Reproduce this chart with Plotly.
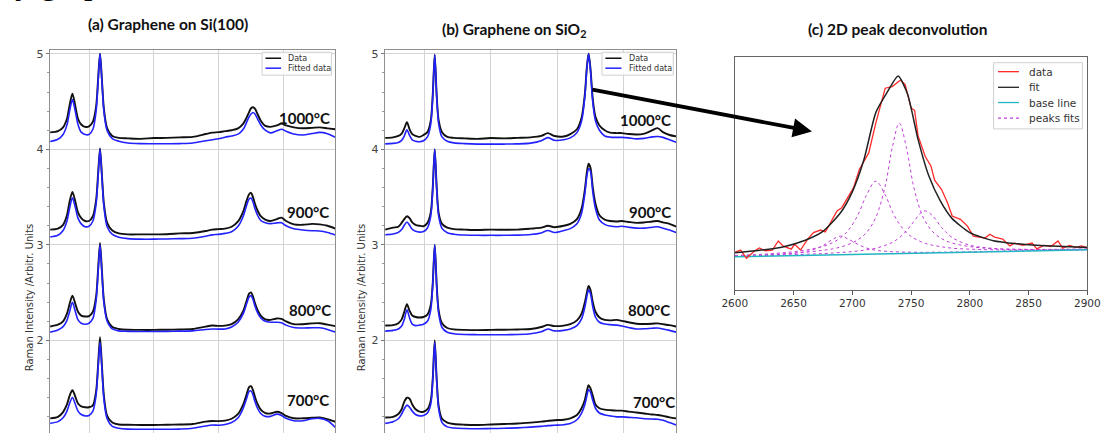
import plotly.graph_objects as go

W, H = 1115, 433

# ---------------- data: panels (a) and (b) ----------------
TEMPS = ["1000°C", "900°C", "800°C", "700°C"]

XA = [1200, 1260, 1300, 1330, 1350, 1372, 1395, 1415, 1440, 1470, 1500, 1530, 1555, 1570, 1585,
      1600, 1615, 1640, 1680, 1730, 1800, 1900, 2000, 2100, 2200, 2300, 2400, 2450, 2500, 2550,
      2600, 2650, 2690, 2715, 2735, 2750, 2765, 2780, 2800, 2825, 2860, 2900, 2950, 2985, 3020,
      3080, 3150, 3220, 3280, 3340, 3400]

A1000_FIT = [4.082, 4.106, 4.156, 4.256, 4.397, 4.52, 4.392, 4.261, 4.18, 4.155,
             4.155, 4.21, 4.403, 4.706, 5.0, 4.703, 4.395, 4.196, 4.113, 4.085,
             4.067, 4.06, 4.058, 4.058, 4.06, 4.066, 4.09, 4.1, 4.11, 4.127,
             4.14, 4.159, 4.21, 4.28, 4.34, 4.37, 4.385, 4.37, 4.32, 4.255,
             4.2, 4.172, 4.195, 4.21, 4.19, 4.16, 4.15, 4.165, 4.177, 4.163, 4.125]
A1000_DATA = [4.177, 4.19, 4.23, 4.32, 4.46, 4.583, 4.45, 4.32, 4.26, 4.235,
              4.24, 4.29, 4.45, 4.73, 5.0, 4.72, 4.42, 4.22, 4.14, 4.12,
              4.115, 4.11, 4.118, 4.12, 4.125, 4.13, 4.16, 4.175, 4.18, 4.19,
              4.2, 4.22, 4.27, 4.33, 4.39, 4.43, 4.44, 4.425, 4.37, 4.3,
              4.245, 4.235, 4.25, 4.27, 4.25, 4.23, 4.22, 4.225, 4.23, 4.22, 4.21]
A900_FIT = [3.083, 3.10, 3.15, 3.25, 3.38, 3.493, 3.39, 3.28, 3.22, 3.19,
            3.195, 3.25, 3.43, 3.71, 4.0, 3.70, 3.40, 3.19, 3.11, 3.08,
            3.065, 3.06, 3.06, 3.062, 3.065, 3.07, 3.09, 3.105, 3.11, 3.12,
            3.137, 3.194, 3.30, 3.41, 3.48, 3.49, 3.45, 3.38, 3.31, 3.255,
            3.232, 3.222, 3.23, 3.232, 3.2, 3.168, 3.155, 3.148, 3.146, 3.13, 3.104]
A900_DATA = [3.16, 3.17, 3.21, 3.31, 3.45, 3.555, 3.45, 3.34, 3.28, 3.25,
             3.25, 3.30, 3.47, 3.74, 4.01, 3.72, 3.43, 3.23, 3.15, 3.12,
             3.11, 3.11, 3.11, 3.112, 3.12, 3.125, 3.145, 3.16, 3.165, 3.17,
             3.19, 3.245, 3.35, 3.46, 3.53, 3.545, 3.5, 3.43, 3.36, 3.3,
             3.265, 3.25, 3.27, 3.285, 3.25, 3.215, 3.21, 3.22, 3.215, 3.2, 3.17]
A800_FIT = [2.087, 2.11, 2.145, 2.21, 2.30, 2.399, 2.3, 2.215, 2.18, 2.17,
            2.18, 2.23, 2.42, 2.71, 3.0, 2.69, 2.39, 2.2, 2.12, 2.1,
            2.095, 2.093, 2.093, 2.095, 2.097, 2.1, 2.115, 2.12, 2.118, 2.12,
            2.14, 2.19, 2.28, 2.38, 2.455, 2.469, 2.43, 2.36, 2.29, 2.235,
            2.2, 2.19, 2.19, 2.185, 2.16, 2.135, 2.13, 2.132, 2.132, 2.115, 2.087]
A800_DATA = [2.146, 2.165, 2.2, 2.28, 2.38, 2.469, 2.38, 2.3, 2.26, 2.25,
             2.255, 2.3, 2.46, 2.74, 3.02, 2.72, 2.42, 2.22, 2.14, 2.12,
             2.112, 2.11, 2.11, 2.112, 2.115, 2.12, 2.145, 2.156, 2.152, 2.155,
             2.17, 2.22, 2.31, 2.41, 2.49, 2.503, 2.46, 2.39, 2.32, 2.26,
             2.22, 2.215, 2.23, 2.225, 2.2, 2.17, 2.17, 2.178, 2.18, 2.165, 2.149]
A700_FIT = [1.132, 1.15, 1.19, 1.26, 1.34, 1.403, 1.33, 1.26, 1.225, 1.21,
            1.215, 1.26, 1.43, 1.71, 1.98, 1.69, 1.38, 1.18, 1.1, 1.08,
            1.072, 1.07, 1.07, 1.07, 1.072, 1.08, 1.105, 1.115, 1.112, 1.12,
            1.14, 1.19, 1.29, 1.39, 1.465, 1.472, 1.43, 1.36, 1.29, 1.235,
            1.205, 1.205, 1.229, 1.215, 1.185, 1.16, 1.16, 1.18, 1.184, 1.16, 1.09]
A700_DATA = [1.184, 1.2, 1.25, 1.33, 1.42, 1.479, 1.41, 1.34, 1.31, 1.30,
             1.3, 1.32, 1.47, 1.74, 2.035, 1.73, 1.42, 1.21, 1.14, 1.12,
             1.117, 1.115, 1.115, 1.117, 1.12, 1.125, 1.15, 1.156, 1.155, 1.16,
             1.18, 1.23, 1.33, 1.43, 1.51, 1.521, 1.48, 1.41, 1.335, 1.275,
             1.24, 1.235, 1.253, 1.24, 1.21, 1.185, 1.185, 1.19, 1.194, 1.175, 1.149]

XB = [1200, 1260, 1300, 1325, 1345, 1365, 1385, 1405, 1430, 1460, 1490, 1520, 1545, 1560, 1575,
      1590, 1605, 1630, 1670, 1720, 1800, 1900, 2000, 2100, 2200, 2300, 2380, 2430, 2480, 2550,
      2600, 2650, 2685, 2710, 2725, 2738, 2752, 2770, 2790, 2820, 2860, 2900, 2950, 2990, 3040,
      3100, 3160, 3220, 3260, 3300, 3350, 3400]

B1000_FIT = [4.057, 4.062, 4.072, 4.094, 4.14, 4.205, 4.145, 4.1, 4.085, 4.08,
             4.09, 4.13, 4.265, 4.55, 4.99, 4.55, 4.265, 4.13, 4.085, 4.068,
             4.06, 4.055, 4.055, 4.055, 4.057, 4.065, 4.09, 4.123, 4.095, 4.1,
             4.12, 4.175, 4.295, 4.555, 4.85, 5.0, 4.83, 4.49, 4.3, 4.2,
             4.14, 4.128, 4.125, 4.125, 4.12, 4.11, 4.115, 4.13, 4.135, 4.125, 4.1, 4.073]
B1000_DATA = [4.12, 4.125, 4.14, 4.165, 4.22, 4.284, 4.21, 4.16, 4.14, 4.13,
              4.15, 4.18, 4.3, 4.57, 4.99, 4.56, 4.3, 4.18, 4.13, 4.12,
              4.115, 4.11, 4.118, 4.115, 4.12, 4.125, 4.14, 4.17, 4.14, 4.135,
              4.16, 4.21, 4.33, 4.58, 4.86, 5.0, 4.85, 4.52, 4.34, 4.25,
              4.2, 4.175, 4.17, 4.17, 4.16, 4.155, 4.165, 4.2, 4.222, 4.18, 4.15, 4.135]
B900_FIT = [3.106, 3.114, 3.131, 3.16, 3.205, 3.24, 3.205, 3.163, 3.142, 3.134,
            3.14, 3.177, 3.3, 3.58, 4.0, 3.58, 3.3, 3.172, 3.127, 3.112,
            3.103, 3.1, 3.1, 3.1, 3.102, 3.108, 3.125, 3.15, 3.13, 3.15,
            3.17, 3.22, 3.33, 3.54, 3.72, 3.8, 3.77, 3.55, 3.38, 3.26,
            3.215, 3.197, 3.19, 3.195, 3.185, 3.175, 3.175, 3.185, 3.19, 3.175, 3.155, 3.13]
B900_DATA = [3.16, 3.18, 3.19, 3.23, 3.27, 3.30, 3.28, 3.235, 3.21, 3.2,
             3.195, 3.23, 3.34, 3.6, 4.0, 3.6, 3.33, 3.22, 3.18, 3.165,
             3.16, 3.155, 3.16, 3.158, 3.16, 3.17, 3.18, 3.2, 3.185, 3.2,
             3.22, 3.27, 3.38, 3.58, 3.76, 3.85, 3.81, 3.6, 3.43, 3.31,
             3.265, 3.25, 3.245, 3.25, 3.24, 3.23, 3.235, 3.245, 3.25, 3.235, 3.22, 3.19]
B800_FIT = [2.097, 2.105, 2.12, 2.15, 2.22, 2.32, 2.235, 2.17, 2.155, 2.16,
            2.17, 2.2, 2.32, 2.58, 3.0, 2.56, 2.28, 2.135, 2.085, 2.07,
            2.062, 2.06, 2.06, 2.06, 2.062, 2.07, 2.09, 2.12, 2.1, 2.105,
            2.12, 2.155, 2.225, 2.35, 2.46, 2.53, 2.49, 2.35, 2.245, 2.19,
            2.172, 2.165, 2.16, 2.15, 2.135, 2.12, 2.122, 2.128, 2.13, 2.12, 2.105, 2.087]
B800_DATA = [2.156, 2.16, 2.18, 2.22, 2.3, 2.38, 2.31, 2.26, 2.245, 2.24,
             2.245, 2.27, 2.37, 2.6, 3.0, 2.58, 2.31, 2.18, 2.13, 2.115,
             2.11, 2.108, 2.11, 2.112, 2.115, 2.12, 2.14, 2.163, 2.15, 2.155,
             2.17, 2.21, 2.28, 2.4, 2.5, 2.57, 2.53, 2.4, 2.3, 2.24,
             2.215, 2.21, 2.215, 2.205, 2.19, 2.175, 2.172, 2.175, 2.178, 2.17, 2.16, 2.146]
B700_FIT = [1.132, 1.15, 1.18, 1.23, 1.285, 1.323, 1.3, 1.26, 1.225, 1.21,
            1.215, 1.24, 1.33, 1.58, 1.98, 1.57, 1.28, 1.14, 1.095, 1.083,
            1.078, 1.076, 1.078, 1.08, 1.085, 1.092, 1.1, 1.108, 1.112, 1.118,
            1.13, 1.17, 1.24, 1.33, 1.42, 1.486, 1.46, 1.37, 1.29, 1.24,
            1.22, 1.21, 1.2, 1.2, 1.195, 1.19, 1.18, 1.177, 1.175, 1.165, 1.14, 1.115]
B700_DATA = [1.194, 1.2, 1.23, 1.28, 1.36, 1.40, 1.39, 1.33, 1.28, 1.255,
             1.253, 1.28, 1.37, 1.6, 2.0, 1.59, 1.31, 1.18, 1.14, 1.125,
             1.118, 1.115, 1.12, 1.125, 1.13, 1.14, 1.15, 1.158, 1.165, 1.17,
             1.185, 1.22, 1.29, 1.38, 1.47, 1.531, 1.5, 1.42, 1.33, 1.29,
             1.275, 1.27, 1.265, 1.265, 1.255, 1.245, 1.235, 1.225, 1.22, 1.21, 1.195, 1.184]

# ---------------- data: panel (c) ----------------
XR = [2600, 2605, 2610, 2617, 2621, 2626, 2632, 2637, 2641, 2648, 2651, 2656, 2662, 2667, 2673,
      2677, 2680, 2687, 2691, 2698, 2701, 2706, 2714, 2720, 2723, 2728, 2734, 2741, 2745, 2750,
      2753, 2756, 2762, 2767, 2770, 2776, 2781, 2785, 2792, 2798, 2803, 2808, 2813, 2817, 2821,
      2828, 2834, 2838, 2845, 2853, 2857, 2863, 2869, 2875, 2879, 2885, 2890, 2895, 2900]
C_DATA = [.16, .17, .135, .167, .179, .167, .17, .209, .188, .174, .195, .17, .217, .245, .256,
          .248, .274, .338, .352, .409, .437, .516, .587, .715, .77, .865, .872, .9, .88, .78,
          .77, .66, .573, .53, .47, .43, .373, .316, .302, .273, .23, .226, .222, .238, .226,
          .217, .188, .2, .19, .2, .175, .19, .185, .209, .178, .19, .182, .188, .18]

XC = [2600, 2620, 2640, 2660, 2675, 2690, 2700, 2710, 2720, 2730, 2739, 2747, 2756, 2765, 2775,
      2785, 2800, 2820, 2840, 2860, 2880, 2900]
C_FIT = [.159, .168, .182, .212, .25, .33, .42, .56, .76, .85, .917, .84, .644, .49, .38,
         .305, .245, .21, .197, .19, .185, .181]

XBASE = [2600, 2900]
C_BASE = [.141, .171]

XP = [2600, 2630, 2650, 2665, 2675, 2683, 2690, 2697, 2705, 2712, 2720, 2728, 2734, 2740, 2746,
      2752, 2758, 2762, 2768, 2776, 2785, 2800, 2820, 2850, 2900]
PEAK_2740 = [.145, .151, .157, .163, .169, .175, .183, .195, .215, .245, .31, .445, .61, .715, .611,
             .447, .339, .294, .251, .219, .2, .185, .176, .173, .174]
PEAK_2720 = [.147, .154, .163, .174, .186, .201, .223, .257, .323, .405, .466, .407, .336, .282, .245,
             .222, .207, .199, .191, .184, .178, .174, .171, .171, .174]
PEAK_2762 = [.143, .147, .150, .153, .155, .157, .160, .162, .166, .171, .178, .19, .203, .223, .252,
             .29, .328, .338, .319, .267, .224, .191, .177, .1725, .174]
PEAK_2690 = [.143, .149, .156, .169, .189, .215, .23, .216, .194, .179, .169, .165, .163, .162, .161,
             .161, .16, .16, .161, .161, .1615, .162, .164, .167, .171]

XTICKS_C = [2600, 2650, 2700, 2750, 2800, 2850, 2900]


def px(x):
    return x / W


def py(y):
    return 1 - y / H


BLACK = "#111111"
BLUE = "#2222ff"
GRID = "#d3d3d3"

fig = go.Figure()

panel_a = [(A1000_DATA, A1000_FIT), (A900_DATA, A900_FIT), (A800_DATA, A800_FIT), (A700_DATA, A700_FIT)]
panel_b = [(B1000_DATA, B1000_FIT), (B900_DATA, B900_FIT), (B800_DATA, B800_FIT), (B700_DATA, B700_FIT)]

for xs, panel, xa, ya in [(XA, panel_a, "x", "y"), (XB, panel_b, "x2", "y2")]:
    for (d, f), t in zip(panel, TEMPS):
        fig.add_trace(go.Scatter(x=xs, y=d, mode="lines", name="Data " + t, showlegend=False,
                                 line=dict(color=BLACK, width=1.9, shape="spline", smoothing=0.8),
                                 xaxis=xa, yaxis=ya, hoverinfo="skip"))
        fig.add_trace(go.Scatter(x=xs, y=f, mode="lines", name="Fitted data " + t, showlegend=False,
                                 line=dict(color=BLUE, width=1.6, shape="spline", smoothing=0.8),
                                 xaxis=xa, yaxis=ya, hoverinfo="skip"))

# panel (c)
for ys in [PEAK_2690, PEAK_2720, PEAK_2740, PEAK_2762]:
    fig.add_trace(go.Scatter(x=XP, y=ys, mode="lines", name="peaks fits", showlegend=False,
                             line=dict(color="#c040d8", width=1, dash="dot", shape="spline"),
                             xaxis="x3", yaxis="y3", hoverinfo="skip"))
fig.add_trace(go.Scatter(x=XBASE, y=C_BASE, mode="lines", name="base line", showlegend=False,
                         line=dict(color="#22b5c2", width=1.5), xaxis="x3", yaxis="y3"))
fig.add_trace(go.Scatter(x=XR, y=C_DATA, mode="lines", name="data", showlegend=False,
                         line=dict(color="#ff2a2a", width=1.3), xaxis="x3", yaxis="y3"))
fig.add_trace(go.Scatter(x=XC, y=C_FIT, mode="lines", name="fit", showlegend=False,
                         line=dict(color="#222222", width=1.5, shape="spline", smoothing=0.6),
                         xaxis="x3", yaxis="y3"))

spine = dict(showline=True, mirror=True, linecolor="#8f8f8f", linewidth=1, zeroline=False)
xgrid = dict(range=[1200, 3400], tickvals=[1500, 2000, 2500, 3000], showticklabels=False, ticks="",
             showgrid=True, gridcolor=GRID, gridwidth=1.4, **spine)
ygrid = dict(range=[1.031, 5.042], tickvals=[2, 3, 4, 5], ticks="outside", ticklen=3.5, tickcolor="#777",
             tickfont=dict(family="DejaVu Sans", size=11, color="#444"),
             minor=dict(dtick=0.2, ticks="outside", ticklen=2, tickcolor="#999", showgrid=False),
             showgrid=True, gridcolor=GRID, gridwidth=1.4, **spine)

fig.update_layout(
    width=W, height=H, margin=dict(l=0, r=0, t=0, b=0), autosize=False,
    paper_bgcolor="white", plot_bgcolor="white", showlegend=False,
    xaxis=dict(domain=[px(38), px(330)], anchor="y", **xgrid),
    yaxis=dict(domain=[0, py(48)], anchor="x", **ygrid),
    xaxis2=dict(domain=[px(381), px(679)], anchor="y2", **xgrid),
    yaxis2=dict(domain=[0, py(48)], anchor="x2", **ygrid),
    xaxis3=dict(domain=[px(739), px(1100)], anchor="y3", range=[2600, 2900], tickvals=XTICKS_C,
                ticks="outside", ticklen=4, tickcolor="#555",
                tickfont=dict(family="DejaVu Sans", size=10.5, color="#333"),
                showgrid=False, showline=True, mirror=True, linecolor="#666", linewidth=1.2, zeroline=False),
    yaxis3=dict(domain=[py(289), py(55)], anchor="x3", range=[0, 1], showticklabels=False, ticks="",
                showgrid=False, showline=True, mirror=True, linecolor="#666", linewidth=1.2, zeroline=False),
)

ann = []
title_font = dict(family="Lato", size=15.5, color="#111")
ann.append(dict(text="<b>(a) Graphene on Si(100)</b>", x=px(158.5), y=py(22.5), font=title_font))
ann.append(dict(text="<b>(b) Graphene on SiO<sub>2</sub></b>", x=px(513), y=py(28), font=title_font))
ann.append(dict(text="<b>(c) 2D peak deconvolution</b>", x=px(906), y=py(27.5), font=title_font))

label_font = dict(family="DejaVu Sans", size=10, color="#333")
for xl in (17, 357):
    ann.append(dict(text="Raman Intensity /Arbitr. Units", x=px(xl), y=py(297), textangle=-90, font=label_font))

temp_font = dict(family="Lato", size=15, color="#111")
for t, yy, xr in zip(TEMPS, [116.3, 210.8, 309, 399.7], [327, 326, 328, 326]):
    ann.append(dict(text="<b>%s</b>" % t, x=px(xr), y=py(yy), xanchor="right", font=temp_font))
for t, yy, xr in zip(TEMPS, [118.5, 211, 309.5, 401.7], [676, 676, 675, 680]):
    ann.append(dict(text="<b>%s</b>" % t, x=px(xr), y=py(yy), xanchor="right", font=temp_font))

for a in ann:
    a.setdefault("xanchor", "center")
    a.setdefault("yanchor", "middle")
    a.update(xref="paper", yref="paper", showarrow=False)

# arrow from panel (b) to panel (c)
ann.append(dict(x=px(818), y=py(130), xref="paper", yref="paper", ax=597 - 818, ay=88 - 130,
                axref="pixel", ayref="pixel", showarrow=True, arrowhead=2, arrowsize=1,
                arrowwidth=3.8, arrowcolor="#000", text=""))

# clipped text line from the page above
ann.append(dict(text="y graph", x=0, y=1, xref="paper", yref="paper", xanchor="left",
                yanchor="bottom", yshift=-1, showarrow=False,
                font=dict(family="Liberation Serif", size=34, color="#000")))

shapes = []
leg_font_small = dict(family="DejaVu Sans", size=8, color="#333")
# legends of (a) and (b)
for x0, x1, lx0, lx1, tx in [(255, 326, 258.5, 274.5, 280), (603, 676, 606.5, 623, 628.3)]:
    shapes.append(dict(type="rect", xref="paper", yref="paper", x0=px(x0), x1=px(x1), y0=py(73.5), y1=py(50.5),
                       line=dict(color="#d0d0d0", width=1), fillcolor="rgba(255,255,255,0.85)"))
    for yy, col, name in [(56.5, BLACK, "Data"), (66.5, BLUE, "Fitted data")]:
        shapes.append(dict(type="line", xref="paper", yref="paper", x0=px(lx0), x1=px(lx1), y0=py(yy), y1=py(yy),
                           line=dict(color=col, width=1.5)))
        ann.append(dict(text=name, x=px(tx), y=py(yy), xref="paper", yref="paper", xanchor="left",
                        yanchor="middle", showarrow=False, font=leg_font_small))

# legend of (c)
shapes.append(dict(type="rect", xref="paper", yref="paper", x0=px(1004), x1=px(1095), y0=py(127.5), y1=py(61),
                   line=dict(color="#d0d0d0", width=1), fillcolor="rgba(255,255,255,0.85)"))
leg_font = dict(family="DejaVu Sans", size=10.5, color="#333")
for yy, col, dash, name in [(70, "#ff2a2a", "solid", "data"), (85.7, "#222222", "solid", "fit"),
                            (101, "#22b5c2", "solid", "base line"), (116.7, "#c040d8", "dot", "peaks fits")]:
    shapes.append(dict(type="line", xref="paper", yref="paper", x0=px(1008.5), x1=px(1030), y0=py(yy), y1=py(yy),
                       line=dict(color=col, width=1.3, dash=dash)))
    ann.append(dict(text=name, x=px(1038.5), y=py(yy), xref="paper", yref="paper", xanchor="left",
                    yanchor="middle", showarrow=False, font=leg_font))

fig.update_layout(annotations=ann, shapes=shapes)

fig.write_html("out.html", config={"displayModeBar": False},
               post_script="document.body.style.margin='0';document.body.style.overflow='hidden';")
